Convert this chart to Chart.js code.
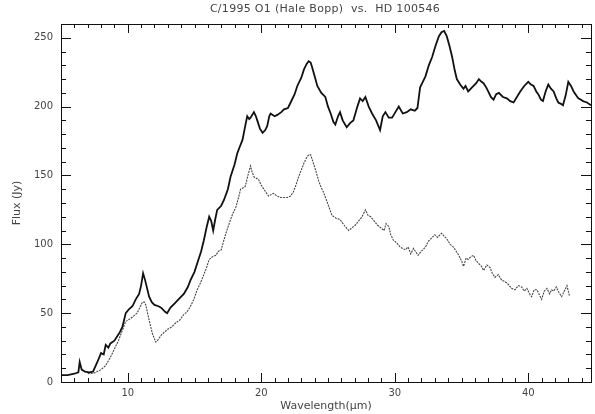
<!DOCTYPE html>
<html>
<head>
<meta charset="utf-8">
<script src="https://cdn.jsdelivr.net/npm/chart.js@4"></script>
<style>
  body { margin:0; background:#fff; }
  canvas { display:block; }
</style>
</head>
<body>
<canvas id="spec" width="595" height="414"></canvas>
<script>
// HD 100546 (upper trace) and Hale-Bopp (lower trace)
const hdWave = [5.0,5.5,6.0,6.3,6.4,6.55,6.8,7.1,7.4,7.7,8.0,8.2,8.35,8.55,8.7,9.0,9.2,9.4,9.6,9.85,
  10.1,10.35,10.6,10.85,11.0,11.15,11.3,11.45,11.6,11.8,12.0,12.3,12.5,12.8,12.95,13.2,13.5,13.8,14.2,14.5,
  14.7,15.0,15.2,15.5,15.7,15.9,16.1,16.25,16.4,16.55,16.7,17.0,17.2,17.5,17.7,18.0,18.2,18.4,18.6,18.8,
  18.95,19.1,19.2,19.45,19.6,19.7,19.9,20.1,20.3,20.45,20.6,20.7,21.0,21.2,21.5,21.7,22.0,22.2,22.5,22.7,
  23.0,23.2,23.4,23.55,23.7,23.8,24.0,24.2,24.5,24.8,25.0,25.2,25.4,25.55,25.75,25.9,26.1,26.4,26.65,26.9,
  27.2,27.4,27.6,27.8,28.05,28.3,28.6,28.9,29.1,29.3,29.55,29.8,30.05,30.3,30.6,30.9,31.2,31.5,31.7,31.9,
  32.1,32.3,32.55,32.8,33.05,33.3,33.5,33.7,33.9,34.1,34.3,34.5,34.65,34.9,35.15,35.3,35.5,35.7,35.9,36.1,
  36.3,36.5,36.65,36.85,37.0,37.2,37.4,37.6,37.8,38.1,38.4,38.65,38.9,39.15,39.4,39.7,40.0,40.2,40.4,40.6,
  40.75,40.95,41.1,41.3,41.5,41.7,41.9,42.1,42.25,42.45,42.6,42.8,43.0,43.2,43.4,43.6,43.75,43.95,44.1,44.4,44.7];
const hdFlux = [5,5,6,7,14.5,9,7.5,7,7.5,14,21,20,27,25,28,30,33,36,40,50,
  53,55,60,64,70,79,74,68,62,58,56,55,54,51,50,54,57,60,64,69,
  74,80,86,95,103,112,120,117,110,118,125,128,132,140,149,158,166,171,176,186,
  193,191,192,196,193,190,184,181,183,186,193,195,193,194,196,198,199,203,209,215,
  221,227,231,233,232,229,222,215,210,207,200,195,189,187,193,196,190,185,188,190,
  200,206,204,207,200,195,190,183,193,196,192,192,196,200,195,196,198,197,199,214,
  218,222,230,236,244,251,254,255,251,244,236,226,220,216,213,215,211,213,215,217,
  220,218,217,214,211,207,205,209,210,207,206,204,203,207,211,215,218,216,215,211,
  209,205,204,211,216,213,211,206,203,202,201,208,218,215,211,208,206,205,204,203,201];

const hbWave = [7.0,7.5,8.0,8.35,8.7,9.1,9.3,9.5,9.85,10.2,10.45,10.7,10.9,11.1,11.25,11.35,11.6,11.85,12.1,12.3,
  12.5,12.95,13.3,13.6,13.9,14.2,14.45,14.7,14.95,15.2,15.45,15.7,15.9,16.1,16.35,16.6,16.8,17.0,17.2,17.35,
  17.7,17.9,18.1,18.3,18.45,18.65,18.8,19.0,19.2,19.3,19.45,19.8,20.0,20.2,20.55,20.9,21.2,21.45,21.95,22.2,
  22.4,22.6,22.8,23.0,23.2,23.4,23.55,23.7,23.9,24.1,24.3,24.5,24.7,25.0,25.3,25.6,25.9,26.2,26.55,26.8,
  27.05,27.3,27.55,27.8,28.0,28.2,28.45,28.7,28.95,29.2,29.35,29.55,29.7,29.9,30.15,30.4,30.6,30.8,31.0,31.2,
  31.4,31.55,31.75,31.9,32.1,32.3,32.5,32.7,33.0,33.2,33.5,33.7,33.9,34.15,34.4,34.6,34.8,35.0,35.15,35.35,
  35.5,35.7,35.9,36.1,36.3,36.5,36.65,36.9,37.15,37.3,37.5,37.75,38.0,38.25,38.5,38.75,39.0,39.25,39.5,39.7,
  39.9,40.1,40.25,40.45,40.65,40.85,41.0,41.2,41.4,41.6,41.75,41.9,42.1,42.3,42.5,42.7,42.9,43.0,43.1];
const hbFlux = [6,6.5,9,12,18,26,30,35,44,46,48,50,54,58,58,56,45,35,29,31,
  34,38,40,43,45,49,51,55,60,67,72,78,83,89,91,92,95,96,103,108,
  118,123,127,134,140,141,142,150,157,153,149,147,143,140,135,137,135,134,134,135,
  138,143,149,154,159,163,165,165,159,153,146,141,137,129,121,119,118,114,110,112,
  114,117,120,125,121,120,117,114,112,110,115,113,107,103,101,98,97,96,98,93,
  97,95,92,94,96,98,102,104,107,105,108,106,104,100,98,95,92,88,84,90,
  89,91,92,88,86,84,81,85,83,79,76,78,74,73,71,68,67,70,69,66,
  68,64,62,67,67,63,60,66,68,64,67,66,69,65,62,66,70,66,62];

const xMajorTicks = [10, 20, 30, 40];
const yMajorTicks = [0, 50, 100, 150, 200, 250];

const titleText = 'C/1995 O1 (Hale Bopp)  vs.  HD 100546';
const textCol = '#444';

function pts(xs, ys) { return xs.map((x, i) => ({ x: x, y: ys[i] })); }

// frame + inward ticks on all four sides, and the title
const framePlugin = {
  id: 'boxframe',
  afterDraw(chart) {
    const ctx = chart.ctx, a = chart.chartArea;
    const x = chart.scales.x, y = chart.scales.y;
    ctx.save();
    ctx.setLineDash([]);
    ctx.strokeStyle = '#111';
    ctx.lineWidth = 1;
    ctx.strokeRect(Math.round(a.left) + 0.5, Math.round(a.top) + 0.5,
      Math.round(a.right - a.left), Math.round(a.bottom - a.top));
    ctx.beginPath();
    for (let v = 6; v <= 44; v++) {
      const px = Math.round(x.getPixelForValue(v)) + 0.5;
      const len = xMajorTicks.includes(v) ? 9 : 4;
      ctx.moveTo(px, a.bottom); ctx.lineTo(px, a.bottom - len);
      ctx.moveTo(px, a.top); ctx.lineTo(px, a.top + len);
    }
    for (let v = 0; v <= 260; v += 10) {
      const py = Math.round(y.getPixelForValue(v)) + 0.5;
      const len = yMajorTicks.includes(v) ? 10 : 5;
      ctx.moveTo(a.left, py); ctx.lineTo(a.left + len, py);
      ctx.moveTo(a.right, py); ctx.lineTo(a.right - len, py);
    }
    ctx.stroke();
    ctx.fillStyle = textCol;
    ctx.font = '11px "DejaVu Sans"';
    if ('letterSpacing' in ctx) ctx.letterSpacing = '0.3px';
    ctx.textAlign = 'center';
    ctx.textBaseline = 'middle';
    ctx.fillText(titleText, 325, 9);
    ctx.restore();
  }
};

new Chart(document.getElementById('spec'), {
  type: 'scatter',
  data: {
    datasets: [
      { label: 'HD 100546', data: pts(hdWave, hdFlux), showLine: true, borderColor: '#111',
        borderWidth: 1.8, pointRadius: 0, tension: 0 },
      { label: 'Hale-Bopp', data: pts(hbWave, hbFlux), showLine: true, borderColor: '#444',
        borderWidth: 1.1, borderDash: [2, 1], pointRadius: 0, tension: 0 }
    ]
  },
  options: {
    responsive: false,
    animation: false,
    layout: { padding: { left: 0, right: 4, top: 24, bottom: 0 } },
    plugins: { legend: { display: false }, tooltip: { enabled: false } },
    scales: {
      x: {
        type: 'linear', min: 5, max: 44.7,
        afterBuildTicks: s => { s.ticks = xMajorTicks.map(v => ({ value: v })); },
        afterFit: s => { s.height = 32; },
        grid: { display: false, drawTicks: false },
        border: { display: false },
        ticks: { padding: 5, color: textCol, font: { family: 'DejaVu Sans', size: 10 } },
        title: { display: true, text: 'Wavelength(μm)', color: textCol, padding: { top: 0, bottom: 1 },
          font: { family: 'DejaVu Sans', size: 11 } }
      },
      y: {
        min: 0, max: 260,
        afterBuildTicks: s => { s.ticks = yMajorTicks.map(v => ({ value: v })); },
        afterFit: s => { s.width = 61; },
        grid: { display: false, drawTicks: false },
        border: { display: false },
        ticks: { padding: 8, color: textCol, font: { family: 'DejaVu Sans', size: 10 } },
        title: { display: true, text: 'Flux (Jy)', color: textCol, padding: { top: 11, bottom: 0 },
          font: { family: 'DejaVu Sans', size: 11 } }
      }
    }
  },
  plugins: [framePlugin]
});
</script>
</body>
</html>
